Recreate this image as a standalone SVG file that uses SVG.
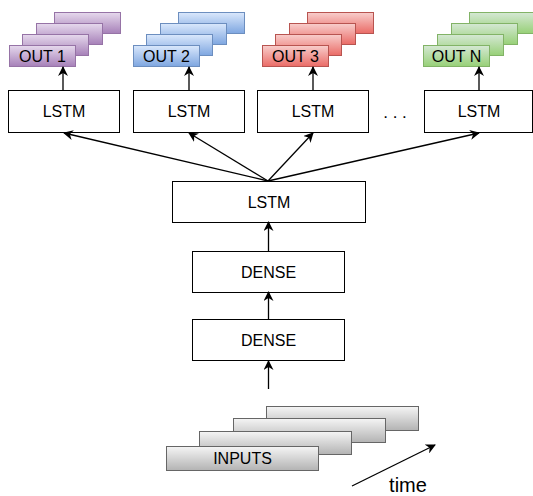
<svg xmlns="http://www.w3.org/2000/svg" width="533" height="496" viewBox="0 0 533 496">
<style>
text{font-family:"Liberation Sans",Arial,sans-serif;font-size:16px;fill:#000;text-anchor:middle;dominant-baseline:central}
.box{fill:#fff;stroke:#000;stroke-width:1}
.pu{fill:url(#gp);stroke:#9673a6}
.bl{fill:url(#gb);stroke:#6c8ebf}
.rd{fill:url(#gr);stroke:#b85450}
.gn{fill:url(#gg);stroke:#82b366}
.gy{fill:url(#gy);stroke:#666}
.edge{fill:none;stroke:#000;stroke-width:1.3;marker-end:url(#ah)}
</style>
<defs>
<linearGradient id="gp" x1="0" y1="0" x2="0" y2="1"><stop offset="0" stop-color="#e6d9ed"/><stop offset="1" stop-color="#a680b8"/></linearGradient>
<linearGradient id="gb" x1="0" y1="0" x2="0" y2="1"><stop offset="0" stop-color="#dae8fc"/><stop offset="1" stop-color="#7ea6e0"/></linearGradient>
<linearGradient id="gr" x1="0" y1="0" x2="0" y2="1"><stop offset="0" stop-color="#f8cecc"/><stop offset="1" stop-color="#ea6b66"/></linearGradient>
<linearGradient id="gg" x1="0" y1="0" x2="0" y2="1"><stop offset="0" stop-color="#d5e8d4"/><stop offset="1" stop-color="#97d077"/></linearGradient>
<linearGradient id="gy" x1="0" y1="0" x2="0" y2="1"><stop offset="0" stop-color="#f5f5f5"/><stop offset="1" stop-color="#b3b3b3"/></linearGradient>
<marker id="ah" viewBox="0 0 10 10" refX="9" refY="5" markerWidth="10" markerHeight="10" markerUnits="userSpaceOnUse" orient="auto"><path d="M0,0 L10,5 L0,10 L3,5 Z" fill="#000"/></marker>
</defs>

<g id="out1">
<rect class="pu" x="54.5" y="12.5" width="66" height="21"/>
<rect class="pu" x="36.5" y="23.5" width="66" height="21"/>
<rect class="pu" x="22.5" y="34.5" width="66" height="21"/>
<rect class="pu" x="9.5" y="45.5" width="66" height="21"/>
<text x="42.5" y="56">OUT 1</text>
</g>
<g id="out2">
<rect class="bl" x="178.5" y="12.5" width="66" height="21"/>
<rect class="bl" x="160.5" y="23.5" width="66" height="21"/>
<rect class="bl" x="146.5" y="34.5" width="66" height="21"/>
<rect class="bl" x="133.5" y="45.5" width="66" height="21"/>
<text x="166.5" y="56">OUT 2</text>
</g>
<g id="out3">
<rect class="rd" x="307.5" y="12.5" width="66" height="21"/>
<rect class="rd" x="289.5" y="23.5" width="66" height="21"/>
<rect class="rd" x="275.5" y="34.5" width="66" height="21"/>
<rect class="rd" x="262.5" y="45.5" width="66" height="21"/>
<text x="295.5" y="56">OUT 3</text>
</g>
<g id="outN">
<rect class="gn" x="469.5" y="12.5" width="66" height="21"/>
<rect class="gn" x="451.5" y="23.5" width="66" height="21"/>
<rect class="gn" x="437.5" y="34.5" width="66" height="21"/>
<rect class="gn" x="423.5" y="45.5" width="66" height="21"/>
<text x="456.5" y="56">OUT N</text>
</g>

<g id="lstm1"><rect class="box" x="8.5" y="90.5" width="111" height="42"/><text x="64" y="111.5">LSTM</text></g>
<g id="lstm2"><rect class="box" x="133.5" y="90.5" width="111" height="42"/><text x="189" y="111.5">LSTM</text></g>
<g id="lstm3"><rect class="box" x="257.5" y="90.5" width="111" height="42"/><text x="313" y="111.5">LSTM</text></g>
<g id="lstmN"><rect class="box" x="424.5" y="90.5" width="108" height="42"/><text x="479" y="111.5">LSTM</text></g>
<g id="dots"><text x="395" y="112" style="font-size:17px">. . .</text></g>

<g id="lstm"><rect class="box" x="172.5" y="181.5" width="193" height="41"/><text x="269" y="202">LSTM</text></g>
<g id="dense1"><rect class="box" x="192.5" y="251.5" width="152" height="41"/><text x="268.5" y="272">DENSE</text></g>
<g id="dense2"><rect class="box" x="192.5" y="319.5" width="152" height="41"/><text x="268.5" y="340">DENSE</text></g>

<g id="inputs">
<rect class="gy" x="266.5" y="406.5" width="152" height="24"/>
<rect class="gy" x="233.5" y="418.5" width="152" height="24"/>
<rect class="gy" x="199.5" y="431.5" width="152" height="23"/>
<rect class="gy" x="166.5" y="446.5" width="152" height="24"/>
<text x="242.5" y="458.5">INPUTS</text>
</g>
<g id="time"><text x="408" y="485" style="font-size:20px">time</text></g>

<g id="connectors">
<line class="edge" x1="63" y1="90" x2="63" y2="67"/>
<line class="edge" x1="189" y1="90" x2="189" y2="67"/>
<line class="edge" x1="313" y1="90" x2="313" y2="67"/>
<line class="edge" x1="479" y1="90" x2="479" y2="67"/>
<line class="edge" x1="268" y1="181" x2="64" y2="133"/>
<line class="edge" x1="268" y1="181" x2="189" y2="133"/>
<line class="edge" x1="268" y1="181" x2="313" y2="133"/>
<line class="edge" x1="268" y1="181" x2="479" y2="133"/>
<line class="edge" x1="268.5" y1="251" x2="268.5" y2="222"/>
<line class="edge" x1="268.5" y1="319" x2="268.5" y2="292"/>
<line class="edge" x1="268.5" y1="389" x2="268.5" y2="361"/>
<line class="edge" x1="352" y1="486" x2="435" y2="445"/>
</g>
</svg>
